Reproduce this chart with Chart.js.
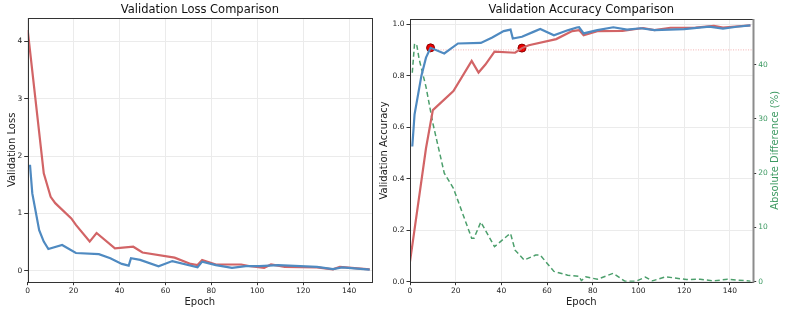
<!DOCTYPE html>
<html>
<head>
<meta charset="utf-8">
<script src="https://cdn.jsdelivr.net/npm/chart.js@4/dist/chart.umd.min.js"></script>
<style>
  body { margin: 0; background: #fff; }
  #wrap { position: relative; width: 785px; height: 312px; overflow: hidden; }
  #lossChart { position: absolute; left: 0; top: 0; }
  #accChart { position: absolute; left: 378px; top: 0; }
</style>
</head>
<body>
<div id="wrap">
  <canvas id="lossChart" width="378" height="312"></canvas>
  <canvas id="accChart" width="407" height="312"></canvas>
</div>
<script>
// --- data ---
const epochTicks = [0, 20, 40, 60, 80, 100, 120, 140];

const blueLossEpochs = [1, 2, 5, 7, 9, 15, 21, 31, 36, 41, 44, 45, 49, 57, 63, 74, 76, 82, 89, 95, 101, 109, 126, 133, 137, 149];
const blueLoss = [1.85, 1.35, 0.71, 0.51, 0.38, 0.45, 0.31, 0.29, 0.22, 0.12, 0.09, 0.22, 0.19, 0.08, 0.17, 0.06, 0.16, 0.10, 0.05, 0.08, 0.08, 0.10, 0.07, 0.03, 0.06, 0.02];

const redLossEpochs = [0, 7, 10, 12, 19, 21, 27, 30, 38, 46, 50, 64, 71, 74, 76, 82, 93, 97, 103, 106, 112, 126, 133, 136, 149];
const redLoss = [4.20, 1.70, 1.29, 1.18, 0.915, 0.80, 0.51, 0.66, 0.39, 0.42, 0.32, 0.23, 0.12, 0.10, 0.19, 0.11, 0.11, 0.08, 0.05, 0.11, 0.07, 0.06, 0.025, 0.07, 0.025];

const blueAccEpochs = [1, 2, 5, 7, 9, 15, 21, 31, 36, 41, 44, 45, 49, 54, 57, 63, 69, 73, 74, 76, 82, 89, 95, 101, 107, 120, 131, 137, 143, 149];
const blueAcc = [0.525, 0.65, 0.80, 0.87, 0.908, 0.886, 0.925, 0.927, 0.948, 0.973, 0.979, 0.944, 0.951, 0.970, 0.981, 0.957, 0.976, 0.987, 0.988, 0.964, 0.977, 0.988, 0.979, 0.984, 0.977, 0.981, 0.990, 0.983, 0.990, 0.995];

const redAccEpochs = [0, 7, 10, 19, 27, 30, 33, 37, 46, 49, 52, 64, 71, 74, 76, 82, 93, 102, 107, 114, 125, 133, 137, 149];
const redAcc = [0.078, 0.518, 0.666, 0.74, 0.857, 0.812, 0.843, 0.893, 0.889, 0.907, 0.918, 0.942, 0.973, 0.977, 0.957, 0.973, 0.974, 0.985, 0.977, 0.986, 0.987, 0.993, 0.987, 0.995];

const diffEpochs = [1, 2, 3, 4, 7, 10, 15, 19, 27, 28, 31, 37, 43, 44, 46, 50, 55, 57, 63, 69, 74, 75, 77, 82, 89, 94, 99, 103, 106, 112, 121, 127, 133, 139, 149];
const diffPct = [38.5, 43.9, 43.5, 41, 35.9, 29.2, 20, 17.2, 8.0, 8.0, 11.0, 6.45, 8.6, 8.9, 5.8, 4.0, 4.9, 4.9, 1.9, 1.2, 1.0, 0.2, 0.9, 0.45, 1.55, 0.1, 0.1, 0.85, 0.15, 0.9, 0.4, 0.45, 0.15, 0.45, 0.1];

const targetAcc = 0.9;
const markerEpochs = [9, 49];
const markerAcc = [0.908, 0.907];

const BLUE = '#4f8ac1';
const RED = '#d26466';
const GREEN = '#4c9f6c';
const GREEN_TEXT = '#3d9a62';
const GRID = '#ebebeb';
const DARK = '#333333';

Chart.defaults.font.family = "'DejaVu Sans', sans-serif";
Chart.defaults.color = '#222';

const pts = (xs, ys) => xs.map((x, i) => ({ x: x, y: ys[i] }));

// frame round the plot area, title centred over it, optional right-hand label
const framePlugin = {
    id: 'frame',
    afterDraw: (chart, args, opts) => {
        const ctx = chart.ctx;
        const a = chart.chartArea;
        ctx.save();
        ctx.strokeStyle = DARK;
        ctx.lineWidth = 1;
        ctx.strokeRect(Math.round(a.left) + 0.5, Math.round(a.top) + 0.5,
            Math.round(a.right - a.left), Math.round(a.bottom - a.top));
        if (opts.rightSpine) {
            ctx.strokeStyle = '#8c8c8c';
            ctx.lineWidth = 2;
            ctx.beginPath();
            ctx.moveTo(Math.round(a.right) + 0.5, a.top);
            ctx.lineTo(Math.round(a.right) + 0.5, a.bottom + 1);
            ctx.stroke();
        }
        ctx.fillStyle = '#111';
        ctx.font = "11.5px 'DejaVu Sans'";
        ctx.textAlign = 'center';
        ctx.textBaseline = 'middle';
        ctx.fillText(opts.text, (a.left + a.right) / 2, 10.5);
        if (opts.rightLabel) {
            // matplotlib reads this one bottom-to-top
            ctx.translate(chart.width - 10, (a.top + a.bottom) / 2);
            ctx.rotate(-Math.PI / 2);
            ctx.fillStyle = GREEN_TEXT;
            ctx.font = "10px 'DejaVu Sans'";
            ctx.fillText(opts.rightLabel, 0, 0);
        }
        ctx.restore();
    }
};

const tickFont = { size: 7.5 };
const titleFont = { size: 10 };

const xAxis = {
    type: 'linear',
    min: 0,
    max: 150,
    afterBuildTicks: (s) => { s.ticks = epochTicks.map(v => ({ value: v })); },
    afterFit: (s) => { s.height = 30.3; },
    grid: { color: GRID, tickColor: DARK, tickLength: 3.5 },
    border: { display: false },
    ticks: { font: tickFont, padding: 1.5, maxRotation: 0 },
    title: { display: true, text: 'Epoch', font: titleFont, padding: { top: 0, bottom: 4 } }
};

new Chart(document.getElementById('lossChart'), {
    type: 'line',
    data: {
        datasets: [
            { data: pts(blueLossEpochs, blueLoss), borderColor: BLUE, borderWidth: 2.2 },
            { data: pts(redLossEpochs, redLoss), borderColor: RED, borderWidth: 2.2 }
        ]
    },
    options: {
        responsive: false,
        animation: false,
        layout: { padding: { top: 18, right: 6, left: 0, bottom: 0 } },
        elements: { point: { radius: 0 }, line: { tension: 0 } },
        plugins: {
            legend: { display: false },
            tooltip: { enabled: false },
            frame: { text: 'Validation Loss Comparison' }
        },
        scales: {
            x: xAxis,
            y: {
                min: -0.19,
                max: 4.41,
                afterFit: (s) => { s.width = 27.7; },
                ticks: { stepSize: 1, includeBounds: false, font: tickFont, padding: 2 },
                grid: { color: GRID, tickColor: DARK, tickLength: 3.5 },
                border: { display: false },
                title: { display: true, text: 'Validation Loss', font: titleFont, padding: { top: 6, bottom: 0 } }
            }
        }
    },
    plugins: [framePlugin]
});

new Chart(document.getElementById('accChart'), {
    type: 'line',
    data: {
        datasets: [
            { data: pts(blueAccEpochs, blueAcc), borderColor: BLUE, borderWidth: 2.2, yAxisID: 'y' },
            { data: pts(redAccEpochs, redAcc), borderColor: RED, borderWidth: 2.2, yAxisID: 'y' },
            { data: [{ x: 9, y: targetAcc }, { x: 150, y: targetAcc }], borderColor: 'rgba(230,90,90,0.6)',
              borderWidth: 0.8, borderDash: [1, 1.5], yAxisID: 'y' },
            { data: pts(diffEpochs, diffPct), borderColor: GREEN, borderWidth: 1.5, borderDash: [5, 3], yAxisID: 'y2' },
            { type: 'scatter', data: pts(markerEpochs, markerAcc), yAxisID: 'y',
              pointRadius: 4, backgroundColor: '#ee0000', borderColor: '#8b0000', borderWidth: 1 }
        ]
    },
    options: {
        responsive: false,
        animation: false,
        layout: { padding: { top: 19, right: 0, left: 0, bottom: 0 } },
        elements: { point: { radius: 0 }, line: { tension: 0 } },
        plugins: {
            legend: { display: false },
            tooltip: { enabled: false },
            frame: { text: 'Validation Accuracy Comparison', rightSpine: true, rightLabel: 'Absolute Difference (%)' }
        },
        scales: {
            x: xAxis,
            y: {
                position: 'left',
                min: 0,
                max: 1.02,
                afterFit: (s) => { s.width = 32; },
                ticks: { stepSize: 0.2, includeBounds: false, font: tickFont, padding: 2,
                    callback: (v) => v.toFixed(1) },
                grid: { color: GRID, tickColor: DARK, tickLength: 3.5 },
                border: { display: false },
                title: { display: true, text: 'Validation Accuracy', font: titleFont, padding: { top: 0, bottom: 0 } }
            },
            y2: {
                position: 'right',
                min: 0,
                max: 48.4,
                afterFit: (s) => { s.width = 32.3; },
                ticks: { stepSize: 10, includeBounds: false, font: tickFont, padding: 2, color: GREEN_TEXT },
                grid: { drawOnChartArea: false, tickColor: DARK, tickLength: 3.5 },
                border: { display: false },
                title: { display: false }
            }
        }
    },
    plugins: [framePlugin]
});
</script>
</body>
</html>
